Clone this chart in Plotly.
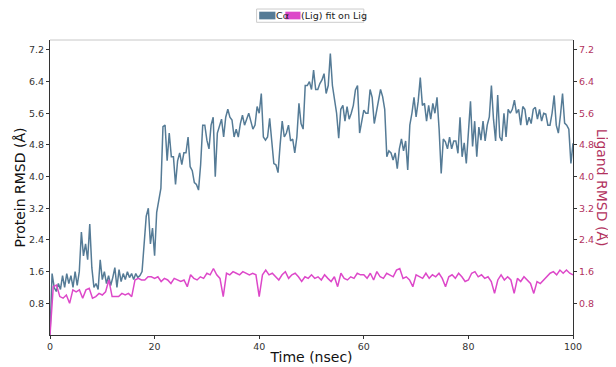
import numpy as np
import plotly.graph_objects as go

# Protein C-alpha RMSD (Å), frames evenly spaced over 0-100 ns
protein_rmsd = [
    0.0, 1.55, 1.2, 1.1, 1.3, 1.15, 1.5, 1.2, 1.55, 1.3, 1.5, 1.2, 1.6, 1.25, 1.6, 2.6, 2.0, 2.3, 1.9, 2.8,
    1.7, 1.2, 1.3, 1.15, 1.9, 1.4, 1.6, 1.3, 1.5, 1.25, 1.45, 1.7, 1.2, 1.65, 1.35, 1.55, 1.4, 1.6, 1.45, 1.55,
    1.4, 1.55, 1.45, 1.5, 1.6, 2.4, 3.0, 3.2, 2.3, 2.7, 2.0,
    3.1, 3.4, 3.7, 5.26, 5.3, 4.4, 5.1, 4.5, 4.5, 3.8, 4.4, 4.6, 4.3, 4.6, 4.6, 5.0, 4.25, 4.15, 3.85, 3.8,
    3.66, 4.3, 5.3, 5.3, 4.92, 4.7, 5.3, 5.5, 4.0, 5.1, 5.3, 5.45, 5.0, 5.5, 5.7, 5.5, 5.43, 5.0, 5.2, 5.0,
    5.34, 5.55, 5.3, 5.45, 5.6, 5.4, 5.2, 5.3, 5.77, 5.6, 6.1,
    5.0, 4.92, 5.0, 5.47, 4.9, 4.33, 4.3, 4.1, 4.8, 5.4, 5.0, 5.1, 5.3, 4.9, 4.95, 4.6, 5.0, 5.85, 5.34, 5.2,
    6.3, 6.3, 6.4, 6.2, 6.69, 6.2, 6.2, 6.35, 6.44, 6.6, 6.1, 6.3, 7.11, 6.3, 5.95, 5.6, 4.97, 5.7, 5.8, 5.4,
    5.77, 5.45, 5.6, 5.8, 6.19, 6.3, 5.1, 5.45, 5.68, 5.6,
    5.6, 6.2, 6.0, 5.34, 5.65, 5.9, 6.2, 6.02, 5.7, 4.5, 4.65, 4.6, 4.42, 4.6, 4.2, 4.7, 4.95, 4.65, 4.9, 4.17,
    5.3, 5.6, 6.0, 5.51, 5.9, 6.5, 5.8, 5.85, 5.4, 5.8, 5.45, 5.85, 5.6, 6.0, 5.2, 4.08, 4.95, 4.88, 4.7, 5.0,
    4.7, 4.9, 4.9, 4.59, 5.5, 4.5, 4.85, 4.33, 5.0, 5.9,
    4.76, 5.4, 4.5, 5.25, 4.92, 5.4, 4.9, 5.3, 5.51, 6.3, 5.45, 4.9, 6.06, 5.0, 4.9, 5.6, 5.0, 5.7, 5.6, 5.7,
    5.93, 5.6, 5.7, 5.3, 5.77, 5.7, 5.3, 5.5, 5.34, 5.7, 5.75, 5.45, 5.7, 5.4, 5.6, 5.58, 5.3, 5.3, 5.6, 6.05,
    5.3, 5.1, 5.55, 6.1, 5.35, 5.3, 5.2, 4.33, 4.84,
]

# Ligand RMSD (Å), fit on ligand, frames evenly spaced over 0-100 ns
ligand_rmsd = [
    0.0, 1.22, 1.26, 0.97, 0.93, 1.01, 0.80, 1.14, 1.09, 1.14, 0.93, 1.14, 1.18, 0.93, 0.97, 1.05,
    1.01, 1.09, 1.39, 0.97, 0.97, 0.97, 1.05, 1.01, 1.05, 0.97, 1.39, 1.43, 1.39, 1.39, 1.47, 1.47,
    1.43, 1.47, 1.35, 1.43, 1.39, 1.30, 1.43, 1.39, 1.35, 1.39, 1.22, 1.52, 1.43, 1.39, 1.47, 1.43,
    1.56, 1.52, 1.68, 1.52, 1.43, 0.97, 1.56, 1.52, 1.60, 1.56, 1.52, 1.60, 1.56, 1.52, 1.56, 1.52,
    0.97, 1.52, 1.64, 1.52, 1.56, 1.47, 1.39, 1.52, 1.60, 1.43, 1.52, 1.56, 1.47, 1.35, 1.47, 1.43,
    1.52, 1.43, 1.47, 1.39, 1.52, 1.43, 1.35, 1.47, 1.22, 1.56, 1.43, 1.39, 1.47, 1.43, 1.56, 1.52,
    1.52, 1.43, 1.56, 1.39, 1.60, 1.47, 1.43, 1.56, 1.52, 1.47, 1.64, 1.68, 1.43, 1.47, 1.39, 1.22,
    1.52, 1.47, 1.43, 1.56, 1.43, 1.52, 1.47, 1.56, 1.43, 1.22, 1.47, 1.52, 1.43, 1.56, 1.47, 1.35,
    1.39, 1.56, 1.60, 1.47, 1.52, 1.43, 1.47, 1.35, 1.05, 1.39, 1.52, 1.39, 1.47, 1.39, 1.05, 1.43,
    1.35, 1.47, 1.39, 1.30, 1.05, 1.35, 1.30, 1.39, 1.47, 1.56, 1.60, 1.52, 1.64, 1.56, 1.64, 1.56,
    1.52,
]

protein_time = np.linspace(0, 100, len(protein_rmsd))
ligand_time = np.linspace(0, 100, len(ligand_rmsd))

x_ticks = [0, 20, 40, 60, 80, 100]
y_ticks = [0.8, 1.6, 2.4, 3.2, 4.0, 4.8, 5.6, 6.4, 7.2]
y_range = [0, 7.45]

legend_labels = ["Cα", "(Lig) fit on Lig"]

BLUE = "#557b96"
PINK = "#dd48c9"
CRIMSON = "#b2325e"
FONT = "DejaVu Sans"

fig = go.Figure()
fig.add_trace(go.Scatter(x=protein_time, y=protein_rmsd, mode="lines",
                         line=dict(color=BLUE, width=1.5), name=legend_labels[0],
                         showlegend=False))
fig.add_trace(go.Scatter(x=ligand_time, y=ligand_rmsd, mode="lines",
                         line=dict(color=PINK, width=1.5), name=legend_labels[1],
                         yaxis="y2", showlegend=False))

# the page body adds an 8px offset, so the figure is sized to fit the window
fig.update_layout(
    width=608, height=359,
    margin=dict(l=42, r=43, t=32, b=32),
    paper_bgcolor="white", plot_bgcolor="white",
    font=dict(family=FONT, color="#333333", size=10),
    xaxis=dict(range=[0, 100], tickvals=x_ticks, ticks="outside", ticklen=3,
               tickcolor="#333", showline=True, linecolor="#333", linewidth=1,
               showgrid=False, zeroline=False, tickfont=dict(size=9.5, color="#333"),
               automargin=False,
               title=dict(text="Time (nsec)", font=dict(size=14, color="#111"), standoff=0)),
    yaxis=dict(range=y_range, tickvals=y_ticks, tickformat=".1f", ticks="outside",
               ticklen=3, tickcolor="#333", showline=True, linecolor="#333", linewidth=1,
               showgrid=False, zeroline=False, tickfont=dict(size=9.5, color="#333"),
               automargin=False,
               title=dict(text="Protein RMSD (Å)", font=dict(size=14, color="#111"), standoff=0)),
    yaxis2=dict(range=y_range, tickvals=y_ticks, tickformat=".1f", ticks="outside",
                ticklen=3, tickcolor="#333", overlaying="y", side="right", showline=True,
                linecolor="#333", linewidth=1, showgrid=False, zeroline=False,
                automargin=False, tickfont=dict(size=9.5, color=CRIMSON)),
)

# top spine (light)
fig.add_shape(type="line", xref="paper", yref="paper", x0=0, x1=1, y0=1, y1=1,
              line=dict(color="#c8c8c8", width=1))

# right axis title, reading top-to-bottom
fig.add_annotation(text="Ligand RMSD (Å)", xref="paper", yref="paper", x=1.057, y=0.5,
                   textangle=90, showarrow=False, font=dict(size=14, color=CRIMSON),
                   xanchor="center", yanchor="middle")

# legend box drawn at top centre
fig.add_shape(type="rect", xref="paper", yref="paper", x0=0.395, x1=0.600, y0=1.060, y1=1.105,
              line=dict(color="#cccccc", width=1), fillcolor="white")
fig.add_shape(type="rect", xref="paper", yref="paper", x0=0.400, x1=0.431, y0=1.070, y1=1.096,
              line=dict(width=0), fillcolor=BLUE)
fig.add_annotation(text=legend_labels[0], xref="paper", yref="paper", x=0.429, y=1.083,
                   xanchor="left", yanchor="middle", showarrow=False,
                   font=dict(size=9.5, color="#222"))
fig.add_shape(type="rect", xref="paper", yref="paper", x0=0.450, x1=0.479, y0=1.070, y1=1.096,
              line=dict(width=0), fillcolor=PINK)
fig.add_annotation(text=legend_labels[1], xref="paper", yref="paper", x=0.477, y=1.083,
                   xanchor="left", yanchor="middle", showarrow=False,
                   font=dict(size=9.5, color="#222"))

fig.write_html("out.html")
